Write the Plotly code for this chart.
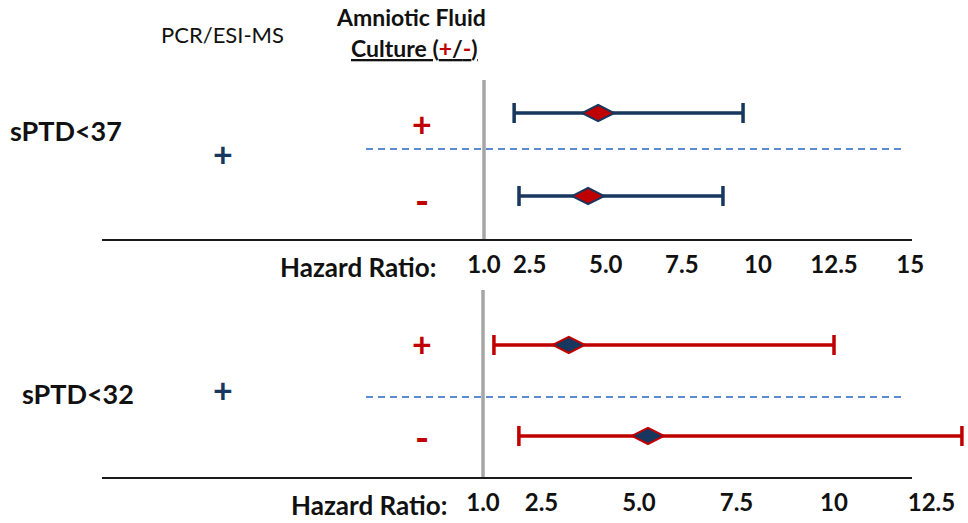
import plotly.graph_objects as go

# ---------------- data ----------------
panel_labels = ["sPTD<37", "sPTD<32"]
culture_signs = ["+", "-"]
pcr_sign = "+"

hr_37 = [4.75, 4.42]
lo_37 = [1.99, 2.15]
hi_37 = [9.51, 8.85]

hr_32 = [3.20, 5.23]
lo_32 = [1.28, 1.92]
hi_32 = [10.00, 13.28]

tickvals_37 = [1.0, 2.5, 5.0, 7.5, 10, 12.5, 15]
ticktext_37 = ["1.0", "2.5", "5.0", "7.5", "10", "12.5", "15"]
tickvals_32 = [1.0, 2.5, 5.0, 7.5, 10, 12.5]
ticktext_32 = ["1.0", "2.5", "5.0", "7.5", "10", "12.5"]

rows = [1, 2]

# ---------------- styles ----------------
W, H = 968, 523
NAVY = "#17375e"
RED = "#c00000"
DASH_BLUE = "#5b8bd0"
GREY = "#a6a6a6"
FONT = "Lato"

def px(x):
    return x / W

def py(y):
    return 1 - y / H

fig = go.Figure()

def add_panel(hr, lo, hi, bar_color, fill_color, edge_color, xa, ya):
    fig.add_trace(go.Scatter(
        x=hr, y=rows, mode="markers",
        xaxis=xa, yaxis=ya,
        marker=dict(symbol="diamond-wide", size=23, color=fill_color,
                    line=dict(color=edge_color, width=2)),
        error_x=dict(type="data", symmetric=False,
                     array=[h - m for h, m in zip(hi, hr)],
                     arrayminus=[m - l for m, l in zip(hr, lo)],
                     color=bar_color, thickness=3.5, width=10),
        showlegend=False, hoverinfo="skip",
    ))

add_panel(hr_37, lo_37, hi_37, NAVY, RED, NAVY, "x", "y")
add_panel(hr_32, lo_32, hi_32, RED, NAVY, RED, "x2", "y2")

tickfont = dict(family=FONT, size=24, color="#111111", weight="bold")
common_x = dict(showgrid=False, zeroline=False, showline=False, ticks="",
                tickfont=tickfont, fixedrange=True, ticklabelstandoff=8)

fig.update_layout(
    width=W, height=H,
    margin=dict(l=0, r=0, t=0, b=0),
    paper_bgcolor="white", plot_bgcolor="white",
    xaxis=dict(domain=[0, 1], range=[-14.90, 16.90], anchor="y",
               tickvals=tickvals_37, ticktext=ticktext_37, **common_x),
    yaxis=dict(domain=[py(240), py(80)], range=[2.530, 0.602], visible=False),
    xaxis2=dict(domain=[0, 1], range=[-11.385, 13.436], anchor="y2",
                tickvals=tickvals_32, ticktext=ticktext_32, **common_x),
    yaxis2=dict(domain=[py(478), py(290)], range=[2.462, 0.396], visible=False),
)

shapes = []
# reference line at HR = 1
for xr, yr in (("x", "y domain"), ("x2", "y2 domain")):
    shapes.append(dict(type="line", xref=xr, yref=yr, x0=1, x1=1, y0=0, y1=1,
                       line=dict(color=GREY, width=3.5), layer="below"))
# baselines
for yb in (240, 478):
    shapes.append(dict(type="line", xref="paper", yref="paper",
                       x0=px(102), x1=px(912), y0=py(yb), y1=py(yb),
                       line=dict(color="#1a1a1a", width=2)))
# dashed separators
for yd in (149, 397):
    shapes.append(dict(type="line", xref="paper", yref="paper",
                       x0=px(366), x1=px(902), y0=py(yd), y1=py(yd),
                       line=dict(color=DASH_BLUE, width=2, dash="7px,5px"),
                       layer="below"))
fig.update_layout(shapes=shapes)

ann = []
def text(x, y, s, size, color="#111111", bold=True, xanchor="center"):
    ann.append(dict(x=px(x), y=py(y), xref="paper", yref="paper", text=s,
                    showarrow=False, xanchor=xanchor, yanchor="middle",
                    font=dict(family=FONT, size=size, color=color,
                              weight="bold" if bold else "normal")))

# headers
text(222, 35, "PCR/ESI-MS", 22, bold=False)
text(411, 17, "Amniotic Fluid", 23)
text(414, 48, "<u>Culture (<span style='color:%s'>+</span>/<span style='color:%s'>-</span>)</u>" % (RED, RED), 23)

# panel labels
text(8, 130, panel_labels[0], 27, xanchor="left")
text(20, 393, panel_labels[1], 27, xanchor="left")

# PCR sign
text(223, 153, pcr_sign, 34, color=NAVY)
text(223, 389, pcr_sign, 34, color=NAVY)

# culture signs
for ys in ((123, 200), (343, 437)):
    text(422, ys[0], culture_signs[0], 34, color=RED)
    text(422, ys[1], culture_signs[1], 38, color=RED)

# Hazard ratio titles
text(358, 267, "Hazard Ratio:", 26)
text(369, 505, "Hazard Ratio:", 26)

fig.update_layout(annotations=ann)

fig.write_html("out.html", config={"displayModeBar": False})
